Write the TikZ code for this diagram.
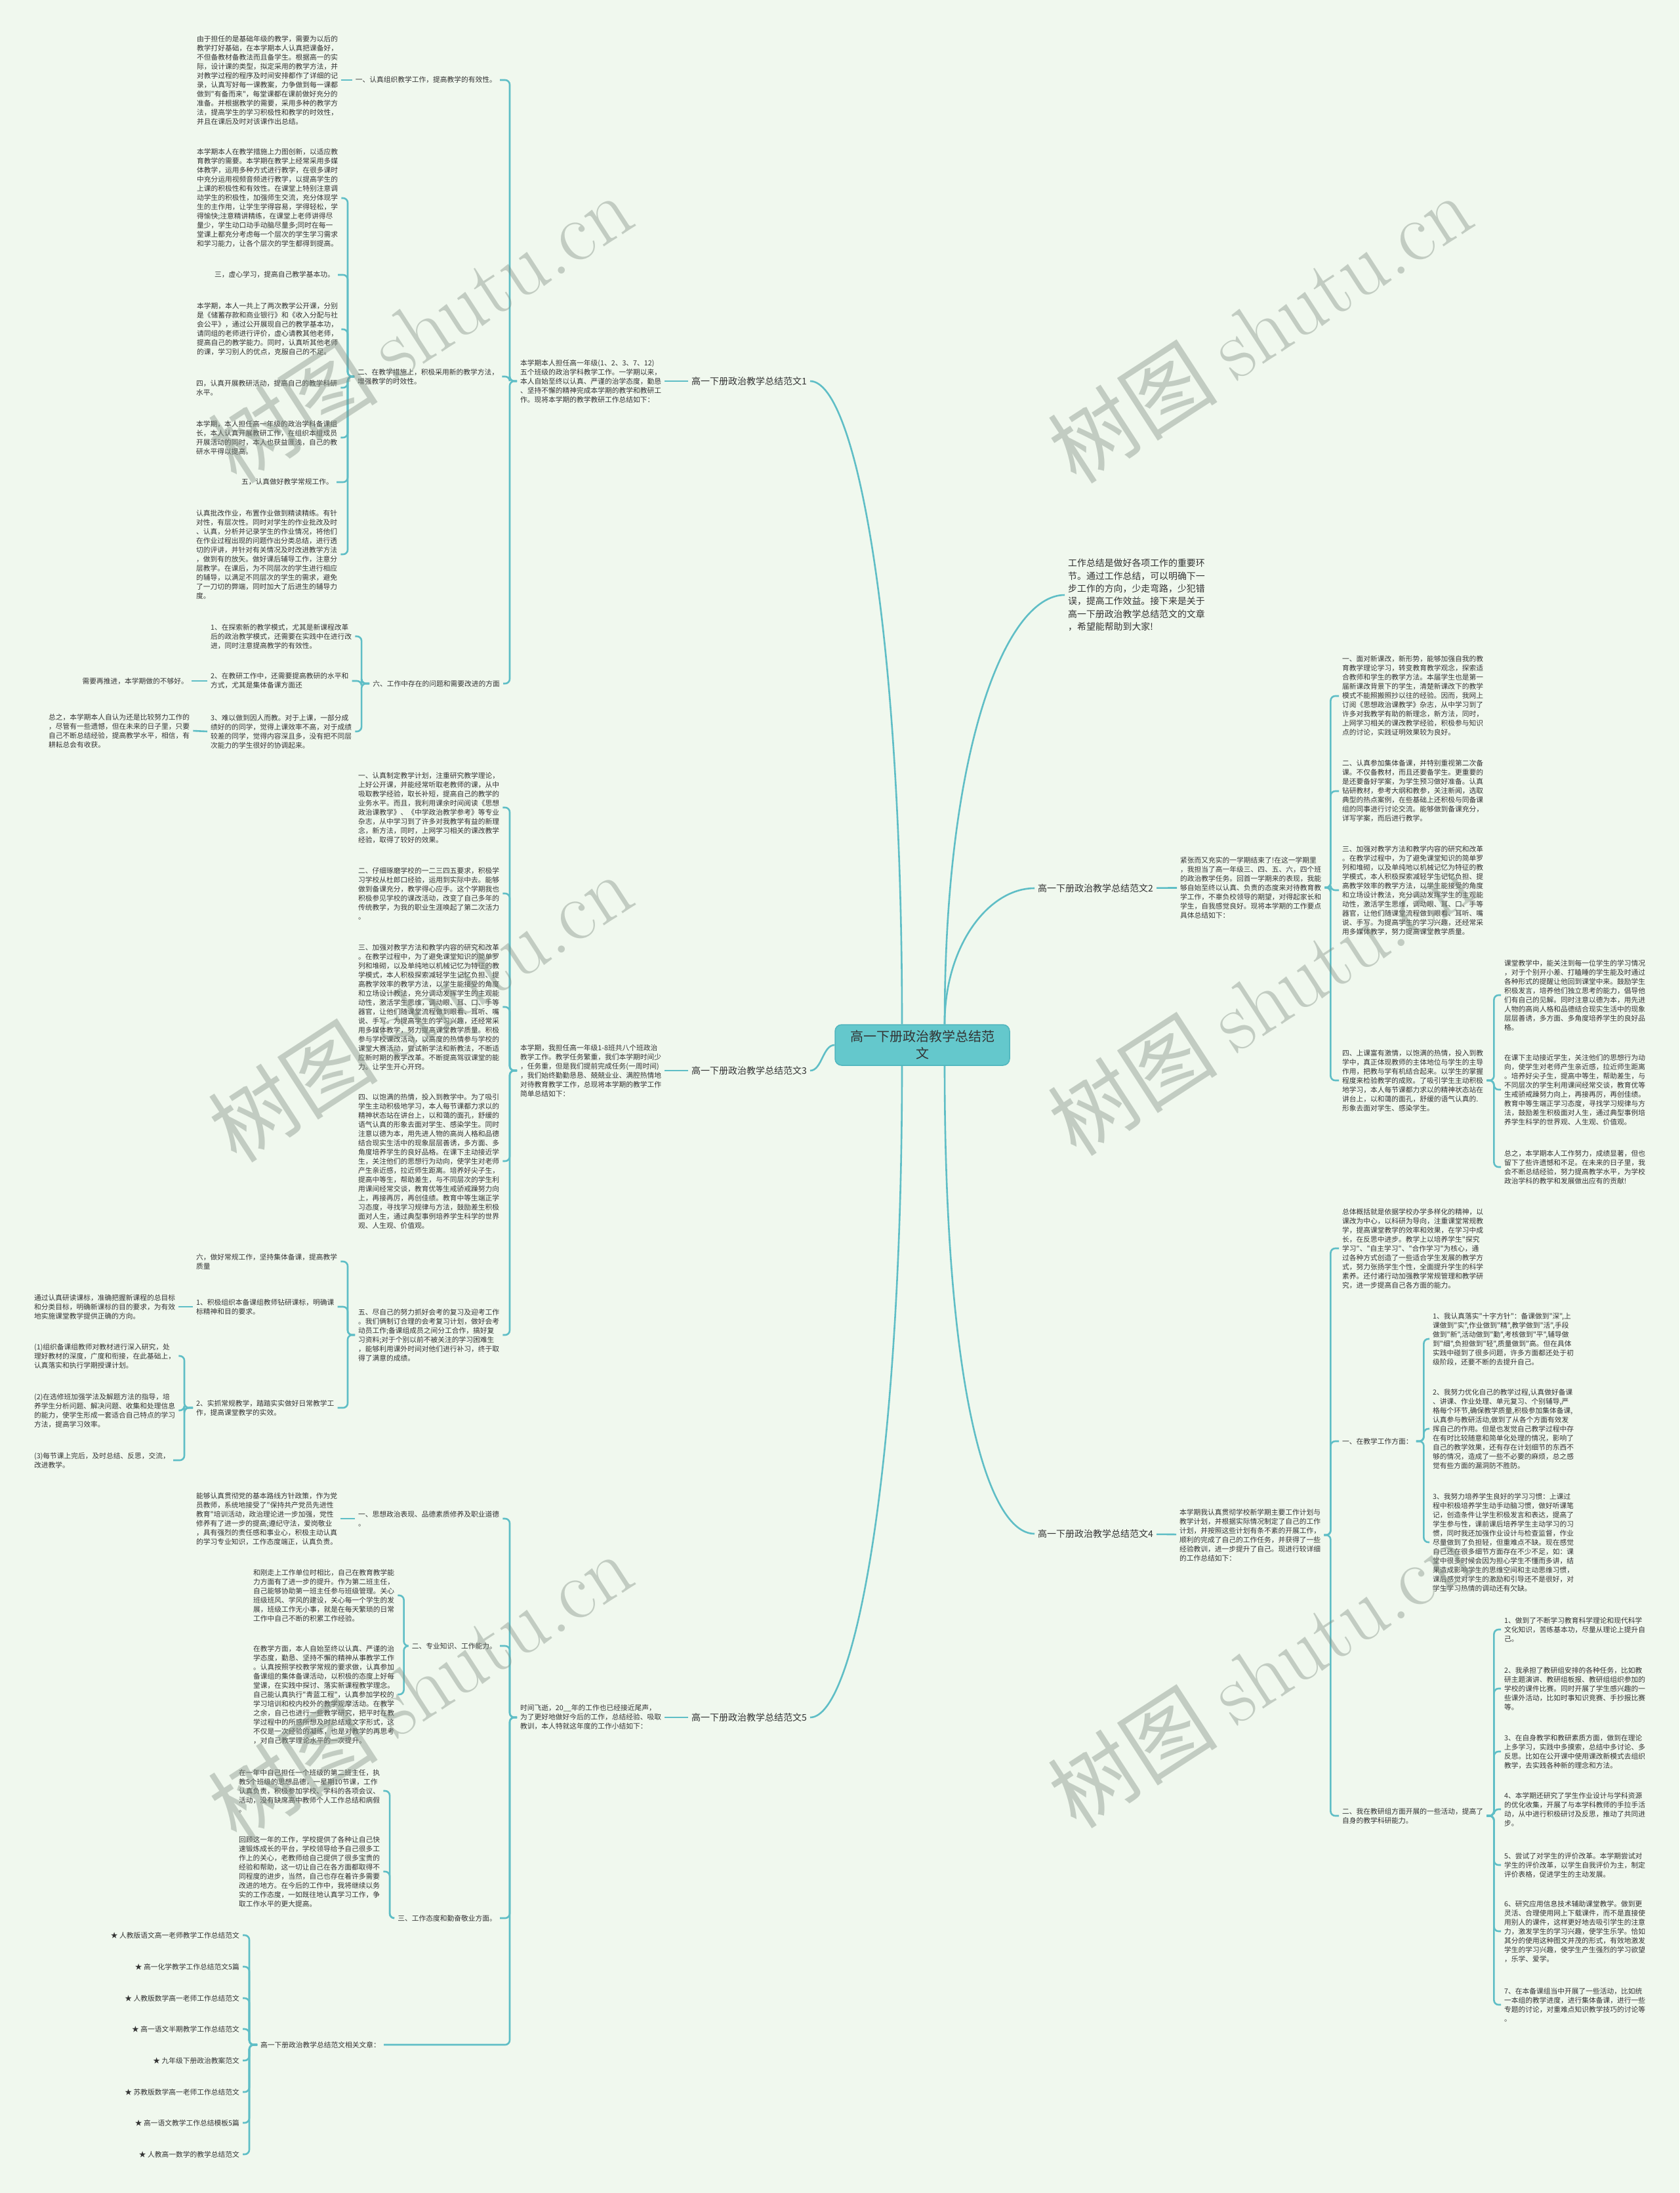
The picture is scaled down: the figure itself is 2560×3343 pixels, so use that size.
\documentclass[tikz,border=0pt]{standalone}
\usepackage{fontspec}
\newfontfamily\cjk{Noto Sans CJK SC}
\definecolor{bgc}{HTML}{F0F8EE}
\definecolor{lnc}{HTML}{5FBEC6}
\definecolor{txc}{HTML}{333333}
\definecolor{rootfill}{HTML}{64C8CC}
\definecolor{rootline}{HTML}{4FB5BD}
\definecolor{wmc}{HTML}{7E8C80}
\tikzset{
  txt/.style={font=\cjk\fontsize{10.75}{14}\selectfont,text=txc,align=left,inner xsep=5pt,inner ysep=0pt},
  brn/.style={font=\cjk\fontsize{14}{18}\selectfont,text=txc,inner xsep=5pt,inner ysep=0pt},
  lnk/.style={draw=lnc,line width=2.6pt,rounded corners=7pt},
  cur/.style={draw=lnc,line width=2.6pt},
  wm/.style={text=wmc,opacity=0.4,rotate=33,inner sep=0pt}
}
\begin{document}
\begin{tikzpicture}[x=1pt,y=-1pt]
\fill[bgc] (0,0) rectangle (2560,3343);
\useasboundingbox (0,0) rectangle (2560,3343);

\node[font=\cjk\fontsize{20}{26}\selectfont,text=txc,fill=rootfill,draw=rootline,line width=1.5pt,rounded corners=10pt,minimum width=266pt,minimum height=62pt,align=center] (root) at (1406,1593) {高一下册政治教学总结范\\文};

\node[brn,anchor=east] (b1) at (1235,581) {高一下册政治教学总结范文1};
\node[txt,anchor=west] (s1) at (788,581) {本学期本人担任高一年级(1、2、3、7、12)\\五个班级的政治学科教学工作。一学期以来，\\本人自始至终以认真、严谨的治学态度，勤恳\\、坚持不懈的精神完成本学期的教学和教研工\\作。现将本学期的教学教研工作总结如下：};
\node[txt,anchor=east] (c11) at (762,122) {一、认真组织教学工作，提高教学的有效性。};
\node[txt,anchor=west] (c11t) at (295,122) {由于担任的是基础年级的教学，需要为以后的\\教学打好基础，在本学期本人认真把课备好，\\不但备教材备教法而且备学生。根据高一的实\\际，设计课的类型，拟定采用的教学方法，并\\对教学过程的程序及时间安排都作了详细的记\\录，认真写好每一课教案，力争做到每一课都\\做到"有备而来"，每堂课都在课前做好充分的\\准备。并根据教学的需要，采用多种的教学方\\法，提高学生的学习积极性和教学的时效性，\\并且在课后及时对该课作出总结。};
\node[txt,anchor=west] (c12) at (540,574) {二、在教学措施上，积极采用新的教学方法，\\增强教学的时效性。};
\node[txt,anchor=west] (c121) at (295,302) {本学期本人在教学措施上力图创新，以适应教\\育教学的需要。本学期在教学上经常采用多媒\\体教学，运用多种方式进行教学，在很多课时\\中充分运用视频音频进行教学，以提高学生的\\上课的积极性和有效性。在课堂上特别注意调\\动学生的积极性，加强师生交流，充分体现学\\生的主作用，让学生学得容易，学得轻松，学\\得愉快;注意精讲精练，在课堂上老师讲得尽\\量少，学生动口动手动脑尽量多;同时在每一\\堂课上都充分考虑每一个层次的学生学习需求\\和学习能力，让各个层次的学生都得到提高。};
\node[txt,anchor=east] (c122) at (515,419) {三，虚心学习，提高自己教学基本功。};
\node[txt,anchor=west] (c123) at (295,502) {本学期，本人一共上了两次教学公开课，分别\\是《储蓄存款和商业银行》和《收入分配与社\\会公平》，通过公开展现自己的教学基本功，\\请同组的老师进行评价，虚心请教其他老师，\\提高自己的教学能力。同时，认真听其他老师\\的课，学习别人的优点，克服自己的不足。};
\node[txt,anchor=west] (c124) at (294,591) {四，认真开展教研活动，提高自己的教学科研\\水平。};
\node[txt,anchor=west] (c125) at (294,667) {本学期，本人担任高一年级的政治学科备课组\\长，本人认真开展教研工作，在组织本组成员\\开展活动的同时，本人也获益匪浅，自己的教\\研水平得以提高。};
\node[txt,anchor=east] (c126) at (513,735) {五，认真做好教学常规工作。};
\node[txt,anchor=west] (c127) at (294,845) {认真批改作业，布置作业做到精读精练。有针\\对性，有层次性。同时对学生的作业批改及时\\、认真，分析并记录学生的作业情况，将他们\\在作业过程出现的问题作出分类总结，进行透\\切的评讲，并针对有关情况及时改进教学方法\\，做到有的放矢。做好课后辅导工作，注意分\\层教学。在课后，为不同层次的学生进行相应\\的辅导，以满足不同层次的学生的需求，避免\\了一刀切的弊端，同时加大了后进生的辅导力\\度。};
\node[txt,anchor=east] (c13) at (767,1042) {六、工作中存在的问题和需要改进的方面};
\node[txt,anchor=west] (c131) at (316,970) {1、在探索新的教学模式，尤其是新课程改革\\后的政治教学模式，还需要在实践中在进行改\\进，同时注意提高教学的有效性。};
\node[txt,anchor=west] (c132) at (316,1038) {2、在教研工作中，还需要提高教研的水平和\\方式，尤其是集体备课方面还};
\node[txt,anchor=west] (c133) at (316,1115) {3、难以做到因人而教。对于上课，一部分成\\绩好的的同学，觉得上课效率不高，对于成绩\\较差的同学，觉得内容深且多，没有把不同层\\次能力的学生很好的协调起来。};
\node[txt,anchor=east] (c132a) at (292,1038) {需要再推进，本学期做的不够好。};
\node[txt,anchor=west] (c133a) at (69,1114) {总之，本学期本人自认为还是比较努力工作的\\，尽管有一些遗憾，但在未来的日子里，只要\\自己不断总结经验，提高教学水平，相信，有\\耕耘总会有收获。};

\node[brn,anchor=east] (b3) at (1235,1632) {高一下册政治教学总结范文3};
\node[txt,anchor=west] (s3) at (788,1632) {本学期，我担任高一年级1-8班共八个班政治\\教学工作。教学任务繁重，我们本学期时间少\\，任务重，但是我们提前完成任务(一周时间)\\，我们始终勤勤恳恳、兢兢业业、满腔热情地\\对待教育教学工作，总现将本学期的教学工作\\简单总结如下：};
\node[txt,anchor=west] (c31) at (541,1231) {一、认真制定教学计划，注重研究教学理论，\\上好公开课，并能经常听取老教师的课，从中\\吸取教学经验，取长补短，提高自己的教学的\\业务水平。而且，我利用课余时间阅读《思想\\政治课教学》、《中学政治教学参考》等专业\\杂志，从中学习到了许多对我教学有益的新理\\念，新方法，同时，上网学习相关的课改教学\\经验，取得了较好的效果。};
\node[txt,anchor=west] (c32) at (541,1362) {二、仔细琢磨学校的一二三四五要求，积极学\\习学校从杜郎口经验，运用到实际中去。能够\\做到备课充分，教学得心应手。这个学期我也\\积极参见学校的课改活动，改变了自己多年的\\传统教学，为我的职业生涯唤起了第二次活力\\。};
\node[txt,anchor=west] (c33) at (541,1535) {三、加强对教学方法和教学内容的研究和改革\\。在教学过程中，为了避免课堂知识的简单罗\\列和堆砌，以及单纯地以机械记忆为特征的教\\学模式，本人积极探索减轻学生记忆负担、提\\高教学效率的教学方法，以学生能接受的角度\\和立场设计教法，充分调动发挥学生的主观能\\动性，激活学生思维，调动眼、耳、口、手等\\器官，让他们随课堂流程做到眼看、耳听、嘴\\说、手写。为提高学生的学习兴趣，还经常采\\用多媒体教学，努力提高课堂教学质量。积极\\参与学校课改活动，以高度的热情参与学校的\\课堂大赛活动，尝试新学法和新教法，不断适\\应新时期的教学改革。不断提高驾驭课堂的能\\力。让学生开心开窍。};
\node[txt,anchor=west] (c34) at (541,1770) {四、以饱满的热情，投入到教学中。为了吸引\\学生主动积极地学习，本人每节课都力求以的\\精神状态站在讲台上，以和蔼的面孔，舒缓的\\语气认真的形象去面对学生、感染学生。同时\\注意以德为本，用先进人物的高尚人格和品德\\结合现实生活中的现象层层善诱，多方面、多\\角度培养学生的良好品格。在课下主动接近学\\生，关注他们的思想行为动向，使学生对老师\\产生亲近感，拉近师生距离。培养好尖子生，\\提高中等生，帮助差生，与不同层次的学生利\\用课间经常交谈，教育优等生戒骄戒躁努力向\\上，再接再厉，再创佳绩。教育中等生端正学\\习态度，寻找学习规律与方法，鼓励差生积极\\面对人生，通过典型事例培养学生科学的世界\\观、人生观、价值观。};
\node[txt,anchor=west] (c35) at (541,2035) {五、尽自己的努力抓好会考的复习及迎考工作\\。我们俩制订合理的会考复习计划，做好会考\\动员工作;备课组成员之间分工合作，搞好复\\习资料;对于个别以前不被关注的学习困难生\\，能够利用课外时间对他们进行补习，终于取\\得了满意的成绩。};
\node[txt,anchor=west] (c351) at (294,1923) {六，做好常规工作，坚持集体备课，提高教学\\质量};
\node[txt,anchor=west] (c352) at (294,1992) {1、积极组织本备课组教师钻研课标，明确课\\标精神和目的要求。};
\node[txt,anchor=west] (c353) at (294,2146) {2、实抓常规教学，踏踏实实做好日常教学工\\作，提高课堂教学的实效。};
\node[txt,anchor=west] (c352a) at (47,1992) {通过认真研读课标，准确把握新课程的总目标\\和分类目标，明确新课标的目的要求，为有效\\地实施课堂教学提供正确的方向。};
\node[txt,anchor=west] (c353a) at (47,2067) {(1)组织备课组教师对教材进行深入研究，处\\理好教材的深度，广度和衔接，在此基础上，\\认真落实和执行学期授课计划。};
\node[txt,anchor=west] (c353b) at (47,2150) {(2)在选修班加强学法及解题方法的指导，培\\养学生分析问题、解决问题、收集和处理信息\\的能力，使学生形成一套适合自己特点的学习\\方法，提高学习效率。};
\node[txt,anchor=west] (c353c) at (47,2226) {(3)每节课上完后，及时总结、反思，交流，\\改进教学。};

\node[brn,anchor=east] (b5) at (1235,2618) {高一下册政治教学总结范文5};
\node[txt,anchor=west] (s5) at (788,2618) {时间飞逝，20\_\_年的工作也已经接近尾声，\\为了更好地做好今后的工作，总结经验、吸取\\教训，本人特就这年度的工作小结如下：};
\node[txt,anchor=west] (c51) at (541,2315) {一、思想政治表现、品德素质修养及职业道德\\。};
\node[txt,anchor=west] (c51a) at (294,2315) {能够认真贯彻党的基本路线方针政策，作为党\\员教师，系统地接受了"保持共产党员先进性\\教育"培训活动，政治理论进一步加强，党性\\修养有了进一步的提高;遵纪守法，爱岗敬业\\，具有强烈的责任感和事业心，积极主动认真\\的学习专业知识，工作态度端正，认真负责。};
\node[txt,anchor=east] (c52) at (762,2509) {二、专业知识、工作能力。};
\node[txt,anchor=west] (c521) at (381,2432) {和刚走上工作单位时相比，自己在教育教学能\\力方面有了进一步的提升。作为第二班主任，\\自己能够协助第一班主任参与班级管理。关心\\班级班风、学风的建设，关心每一个学生的发\\展，班级工作无小事，就是在每天繁琐的日常\\工作中自己不断的积累工作经验。};
\node[txt,anchor=west] (c522) at (381,2583) {在教学方面，本人自始至终以认真、严谨的治\\学态度，勤恳、坚持不懈的精神从事教学工作\\。认真按照学校教学常规的要求做，认真参加\\备课组的集体备课活动，以积极的态度上好每\\堂课，在实践中探讨、落实新课程教学理念。\\自己能认真执行"青蓝工程"，认真参加学校的\\学习培训和校内校外的教学观摩活动。在教学\\之余，自己也进行一些教学研究，把平时在教\\学过程中的所感所想及时总结成文字形式，这\\不仅是一次经验的凝练，也是对教学的再思考\\，对自己教学理论水平的一次提升。};
\node[txt,anchor=east] (c53) at (762,2924) {三、工作态度和勤奋敬业方面。};
\node[txt,anchor=west] (c531) at (359,2730) {在一年中自己担任一个班级的第二班主任，执\\教5个班级的思想品德，一星期10节课，工作\\认真负责，积极参加学校、学科的各项会议、\\活动，没有缺席高中教师个人工作总结和病假\\。};
\node[txt,anchor=west] (c532) at (359,2853) {回顾这一年的工作，学校提供了各种让自己快\\速锻炼成长的平台，学校领导给予自己很多工\\作上的关心，老教师给自己提供了很多宝贵的\\经验和帮助，这一切让自己在各方面都取得不\\同程度的进步，当然，自己也存在着许多需要\\改进的地方。在今后的工作中，我将继续以务\\实的工作态度，一如既往地认真学习工作，争\\取工作水平的更大提高。};
\node[txt,anchor=west] (c54) at (392,3117) {高一下册政治教学总结范文相关文章：};
\node[txt,anchor=east] (l1) at (370,2950) {★ 人教版语文高一老师教学工作总结范文};
\node[txt,anchor=east] (l2) at (370,2998) {★ 高一化学教学工作总结范文5篇};
\node[txt,anchor=east] (l3) at (370,3046) {★ 人教版数学高一老师工作总结范文};
\node[txt,anchor=east] (l4) at (370,3093) {★ 高一语文半期教学工作总结范文};
\node[txt,anchor=east] (l5) at (370,3141) {★ 九年级下册政治教案范文};
\node[txt,anchor=east] (l6) at (370,3189) {★ 苏教版数学高一老师工作总结范文};
\node[txt,anchor=east] (l7) at (370,3236) {★ 高一语文教学工作总结模板5篇};
\node[txt,anchor=east] (l8) at (370,3284) {★ 人教高一数学的教学总结范文};

\node[align=left,font=\cjk\fontsize{13.9}{19.4}\selectfont,text=txc,inner xsep=5pt,inner ysep=0pt,anchor=west] (intro) at (1623,907) {工作总结是做好各项工作的重要环\\节。通过工作总结，可以明确下一\\步工作的方向，少走弯路，少犯错\\误，提高工作效益。接下来是关于\\高一下册政治教学总结范文的文章\\，希望能帮助到大家!};

\node[brn,anchor=west] (b2) at (1577,1354) {高一下册政治教学总结范文2};
\node[txt,anchor=west] (s2) at (1794,1353) {紧张而又充实的一学期结束了!在这一学期里\\，我担当了高一年级三、四、五、六，四个班\\的政治教学任务。回首一学期来的表现，我能\\够自始至终以认真、负责的态度来对待教育教\\学工作，不辜负校领导的期望，对得起家长和\\学生，自我感觉良好。现将本学期的工作要点\\具体总结如下：};
\node[txt,anchor=west] (c21) at (2041,1061) {一、面对新课改，新形势，能够加强自我的教\\育教学理论学习，转变教育教学观念，探索适\\合教师和学生的教学方法。本届学生也是第一\\届新课改背景下的学生，清楚新课改下的教学\\模式不能照搬照抄以往的经验。因而，我网上\\订阅《思想政治课教学》杂志，从中学习到了\\许多对我教学有助的新理念，新方法，同时，\\上网学习相关的课改教学经验，积极参与知识\\点的讨论，实践证明效果较为良好。};
\node[txt,anchor=west] (c22) at (2041,1206) {二、认真参加集体备课，并特别重视第二次备\\课。不仅备教材，而且还要备学生。更重要的\\是还要备好学案，为学生预习做好准备。认真\\钻研教材，参考大纲和教参，关注新闻，选取\\典型的热点案例，在些基础上还积极与同备课\\组的同事进行讨论交流。能够做到备课充分，\\详写学案，而后进行教学。};
\node[txt,anchor=west] (c23) at (2041,1357) {三、加强对教学方法和教学内容的研究和改革\\。在教学过程中，为了避免课堂知识的简单罗\\列和堆砌，以及单纯地以机械记忆为特征的教\\学模式，本人积极探索减轻学生记忆负担、提\\高教学效率的教学方法，以学生能接受的角度\\和立场设计教法，充分调动发挥学生的主观能\\动性，激活学生思维，调动眼、耳、口、手等\\器官，让他们随课堂流程做到眼看、耳听、嘴\\说、手写。为提高学生的学习兴趣，还经常采\\用多媒体教学，努力提高课堂教学质量。};
\node[txt,anchor=west] (c24) at (2041,1647) {四、上课富有激情，以饱满的热情，投入到教\\学中，真正体现教师的主体地位与学生的主导\\作用，把教与学有机结合起来。以学生的掌握\\程度来检验教学的成败。了吸引学生主动积极\\地学习，本人每节课都力求以的精神状态站在\\讲台上，以和蔼的面孔，舒缓的语气认真的.\\形象去面对学生、感染学生。};
\node[txt,anchor=west] (c241) at (2288,1517) {课堂教学中，能关注到每一位学生的学习情况\\，对于个别开小差、打瞌睡的学生能及时通过\\各种形式的提醒让他回到课堂中来。鼓励学生\\积极发言，培养他们独立思考的能力，倡导他\\们有自己的见解。同时注意以德为本，用先进\\人物的高尚人格和品德结合现实生活中的现象\\层层善诱，多方面、多角度培养学生的良好品\\格。};
\node[txt,anchor=west] (c242) at (2288,1661) {在课下主动接近学生，关注他们的思想行为动\\向，使学生对老师产生亲近感，拉近师生距离\\。培养好尖子生，提高中等生，帮助差生，与\\不同层次的学生利用课间经常交谈，教育优等\\生戒骄戒躁努力向上，再接再厉，再创佳绩。\\教育中等生端正学习态度，寻找学习规律与方\\法，鼓励差生积极面对人生，通过典型事例培\\养学生科学的世界观、人生观、价值观。};
\node[txt,anchor=west] (c243) at (2288,1779) {总之，本学期本人工作努力，成绩显著，但也\\留下了些许遗憾和不足。在未来的日子里，我\\会不断总结经验，努力提高教学水平，为学校\\政治学科的教学和发展做出应有的贡献!};

\node[brn,anchor=west] (b4) at (1577,2338) {高一下册政治教学总结范文4};
\node[txt,anchor=west] (s4) at (1793,2340) {本学期我认真贯彻学校新学期主要工作计划与\\教学计划，并根据实际情况制定了自己的工作\\计划，并按照这些计划有条不紊的开展工作，\\顺利的完成了自己的工作任务，并获得了一些\\经验教训，进一步提升了自己。现进行较详细\\的工作总结如下：};
\node[txt,anchor=west] (c41) at (2041,1903) {总体概括就是依据学校办学多样化的精神，以\\课改为中心，以科研为导向，注重课堂常规教\\学，提高课堂教学的效率和效果，在学习中成\\长，在反思中进步。教学上以培养学生"探究\\学习"、"自主学习"、"合作学习"为核心，通\\过各种方式创造了一些适合学生发展的教学方\\式，努力张扬学生个性，全面提升学生的科学\\素养。还付诸行动加强教学常规管理和教学研\\究，进一步提高自己各方面的能力。};
\node[txt,anchor=west] (c42) at (2041,2197) {一、在教学工作方面：};
\node[txt,anchor=west] (c421) at (2179,2041) {1、我认真落实"十字方针"：备课做到"深",上\\课做到"实",作业做到"精",教学做到"活",手段\\做到"新",活动做到"勤",考核做到"平",辅导做\\到"细",负担做到"轻",质量做到"高。但在具体\\实践中碰到了很多问题，许多方面都还处于初\\级阶段，还要不断的去提升自己。};
\node[txt,anchor=west] (c422) at (2179,2178) {2、我努力优化自己的教学过程,认真做好备课\\、讲课、作业处理、单元复习、个别辅导,严\\格每个环节,确保教学质量,积极参加集体备课,\\认真参与教研活动,做到了从各个方面有效发\\挥自己的作用。但是也发觉自己教学过程中存\\在有时比较随意和简单化处理的情况，影响了\\自己的教学效果，还有存在计划细节的东西不\\够的情况，造成了一些不必要的麻烦，总之感\\觉有些方面的漏洞防不胜防。};
\node[txt,anchor=west] (c423) at (2179,2351) {3、我努力培养学生良好的学习习惯：上课过\\程中积极培养学生动手动脑习惯，做好听课笔\\记，创造条件让学生积极发言和表达，提高了\\学生参与性，课前课后培养学生主动学习的习\\惯，同时我还加强作业设计与检查监督，作业\\尽量做到了负担轻，但重难点不缺。现在感觉\\自己还在很多细节方面存在不少不足，如：课\\堂中很多时候会因为担心学生不懂而多讲，结\\果造成影响学生的思维空间和主动思维习惯，\\课后感觉对学生的激励和引导还不是很好，对\\学生学习热情的调动还有欠缺。};
\node[txt,anchor=west] (c43) at (2041,2768) {二、我在教研组方面开展的一些活动，提高了\\自身的教学科研能力。};
\node[txt,anchor=west] (c431) at (2288,2484) {1、做到了不断学习教育科学理论和现代科学\\文化知识，苦练基本功，尽量从理论上提升自\\己。};
\node[txt,anchor=west] (c432) at (2288,2574) {2、我承担了教研组安排的各种任务，比如教\\研主题演讲、教研组板报、教研组组织参加的\\学校的课件比赛。同时开展了学生感兴趣的一\\些课外活动，比如时事知识竞赛、手抄报比赛\\等。};
\node[txt,anchor=west] (c433) at (2288,2670) {3、在自身教学和教研素质方面，做到在理论\\上多学习，实践中多摸索，总结中多讨论、多\\反思。比如在公开课中使用课改新模式去组织\\教学，去实践各种新的理念和方法。};
\node[txt,anchor=west] (c434) at (2288,2758) {4、本学期还研究了学生作业设计与学科资源\\的优化收集，开展了与本学科教师的手拉手活\\动，从中进行积极研讨及反思，推动了共同进\\步。};
\node[txt,anchor=west] (c435) at (2288,2843) {5、尝试了对学生的评价改革。本学期尝试对\\学生的评价改革，以学生自我评价为主，制定\\评价表格，促进学生的主动发展。};
\node[txt,anchor=west] (c436) at (2288,2944) {6、研究应用信息技术辅助课堂教学。做到更\\灵活、合理使用网上下载课件，而不是直接使\\用别人的课件，这样更好地去吸引学生的注意\\力，激发学生的学习兴趣，使学生乐学。恰如\\其分的使用这种图文并茂的形式，有效地激发\\学生的学习兴趣，使学生产生强烈的学习欲望\\，乐学、爱学。};
\node[txt,anchor=west] (c437) at (2288,3056) {7、在本备课组当中开展了一些活动，比如统\\一本组的教学进度，进行集体备课，进行一些\\专题的讨论，对重难点知识教学技巧的讨论等\\。};

\draw[cur] ([xshift=-31pt]root.north) .. controls +(0,-600) and +(70,0) .. (b1.east);
\draw[cur] (root.west) .. controls +(-18,0) and +(18,0) .. (b3.east);
\draw[cur] ([xshift=-31pt]root.south) .. controls +(0,600) and +(70,0) .. (b5.east);
\draw[cur] ([xshift=34pt]root.north) .. controls +(0,-420) and +(-90,0) .. (intro.west);
\draw[cur] ([xshift=34pt]root.north) .. controls +(0,-120) and +(-70,0) .. (b2.west);
\draw[cur] ([xshift=34pt]root.south) .. controls +(0,500) and +(-70,0) .. (b4.west);

\draw[lnk] (b1) -- (s1);
\draw[lnk] (b3) -- (s3);
\draw[lnk] (b5) -- (s5);
\draw[lnk] (b2) -- (s2);
\draw[lnk] (b4) -- (s4);

\draw[lnk] (s1.west) -- ++(-11,0) |- (c11.east);
\draw[lnk] (s1.west) -- ++(-11,0) |- (c12.east);
\draw[lnk] (s1.west) -- ++(-11,0) |- (c13.east);
\draw[lnk] (c11.west) -- (c11t.east);
\draw[lnk] (c12.west) -- ++(-10,0) |- (c121.east);
\draw[lnk] (c12.west) -- ++(-10,0) |- (c122.east);
\draw[lnk] (c12.west) -- ++(-10,0) |- (c123.east);
\draw[lnk] (c12.west) -- ++(-10,0) |- (c124.east);
\draw[lnk] (c12.west) -- ++(-10,0) |- (c125.east);
\draw[lnk] (c12.west) -- ++(-10,0) |- (c126.east);
\draw[lnk] (c12.west) -- ++(-10,0) |- (c127.east);
\draw[lnk] (c13.west) -- ++(-12,0) |- (c131.east);
\draw[lnk] (c13.west) -- ++(-12,0) |- (c132.east);
\draw[lnk] (c13.west) -- ++(-12,0) |- (c133.east);
\draw[lnk] (c132.west) -- (c132a.east);
\draw[lnk] (c133.west) -- (c133a.east);

\draw[lnk] (s3.west) -- ++(-11,0) |- (c31.east);
\draw[lnk] (s3.west) -- ++(-11,0) |- (c32.east);
\draw[lnk] (s3.west) -- ++(-11,0) |- (c33.east);
\draw[lnk] (s3.west) -- ++(-11,0) |- (c34.east);
\draw[lnk] (s3.west) -- ++(-11,0) |- (c35.east);
\draw[lnk] (c35.west) -- ++(-11,0) |- (c351.east);
\draw[lnk] (c35.west) -- ++(-11,0) |- (c352.east);
\draw[lnk] (c35.west) -- ++(-11,0) |- (c353.east);
\draw[lnk] (c352.west) -- (c352a.east);
\draw[lnk] (c353.west) -- ++(-13,0) |- (c353a.east);
\draw[lnk] (c353.west) -- ++(-13,0) |- (c353b.east);
\draw[lnk] (c353.west) -- ++(-13,0) |- (c353c.east);

\draw[lnk] (s5.west) -- ++(-11,0) |- (c51.east);
\draw[lnk] (s5.west) -- ++(-11,0) |- (c52.east);
\draw[lnk] (s5.west) -- ++(-11,0) |- (c53.east);
\draw[lnk] (s5.west) -- ++(-11,0) |- (c54.east);
\draw[lnk] (c51.west) -- (c51a.east);
\draw[lnk] (c52.west) -- ++(-7,0) |- (c521.east);
\draw[lnk] (c52.west) -- ++(-7,0) |- (c522.east);
\draw[lnk] (c53.west) -- ++(-7,0) |- (c531.east);
\draw[lnk] (c53.west) -- ++(-7,0) |- (c532.east);
\foreach \k in {1,...,8}
  \draw[lnk] (c54.west) -- ++(-12,0) |- (l\k.east);

\foreach \k in {1,...,4}
  \draw[lnk] (s2.east) -- ++(9,0) |- (c2\k.west);
\foreach \k in {1,2,3}
  \draw[lnk] (c24.east) -- ++(11,0) |- (c24\k.west);
\foreach \k in {1,2,3}
  \draw[lnk] (s4.east) -- ++(10,0) |- (c4\k.west);
\foreach \k in {1,2,3}
  \draw[lnk] (c42.east) -- ++(11.5,0) |- (c42\k.west);
\foreach \k in {1,...,7}
  \draw[lnk] (c43.east) -- ++(11,0) |- (c43\k.west);

\node[wm] (wm1) at (640,500) {\cjk\fontsize{130}{130}\selectfont 树图 \rmfamily shutu.cn};
\node[wm] (wm2) at (1920,500) {\cjk\fontsize{130}{130}\selectfont 树图 \rmfamily shutu.cn};
\node[wm] (wm3) at (640,1535) {\cjk\fontsize{130}{130}\selectfont 树图 \rmfamily shutu.cn};
\node[wm] (wm4) at (1920,1525) {\cjk\fontsize{130}{130}\selectfont 树图 \rmfamily shutu.cn};
\node[wm] (wm5) at (640,2570) {\cjk\fontsize{130}{130}\selectfont 树图 \rmfamily shutu.cn};
\node[wm] (wm6) at (1920,2550) {\cjk\fontsize{130}{130}\selectfont 树图 \rmfamily shutu.cn};
\end{tikzpicture}
\end{document}
